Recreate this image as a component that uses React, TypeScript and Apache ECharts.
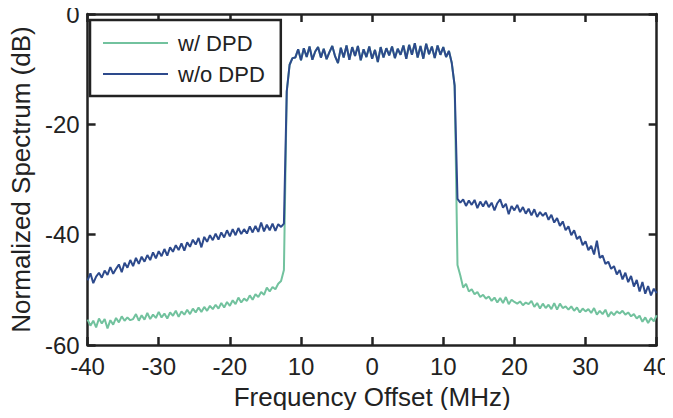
import React, { useEffect, useRef } from "react";
import * as echarts from "echarts";

// Frequency grid: -40 MHz to 40 MHz, step 0.4 MHz (201 samples)
const X_START = -40;
const X_STEP = 0.4;

const xTickLabels = ["-40", "-30", "-20", "10", "0", "10", "20", "30", "40"];
const yTickLabels = ["-60", "-40", "-20", "0"];

// w/o DPD, left adjacent band (x = -40 ... -12.4)
const woLeft = [
  -48.3, -47.0, -48.8, -47.6, -46.9, -47.8, -46.5, -47.3, -45.9, -47.1,
  -46.2, -45.4, -46.8, -45.1, -46.0, -44.6, -45.7, -44.2, -45.3, -44.0,
  -44.9, -43.7, -44.6, -43.2, -44.3, -43.0, -43.9, -42.6, -43.8, -42.3,
  -43.1, -41.9, -42.8, -41.6, -42.9, -41.4, -42.2, -40.9, -41.8, -40.6,
  -42.3, -40.4, -41.3, -40.1, -41.0, -39.8, -40.9, -39.6, -40.5, -39.2,
  -40.3, -39.0, -40.1, -38.8, -39.9, -39.0, -39.8, -38.5, -39.6, -38.4,
  -39.5, -37.8, -39.4, -38.2, -39.2, -38.0, -39.3, -38.1, -38.6, -38.0,
];

// Shared in-band part (x = -12.0 ... 11.6)
const passband = [
  -14.0, -9.2, -8.0,
  -7.9, -6.4, -8.4, -6.2, -7.8, -5.9, -8.3, -6.8, -6.0, -7.9,
  -6.3, -8.2, -6.9, -5.8, -7.7, -8.9, -6.1, -7.9, -5.7, -8.3,
  -6.0, -7.6, -5.8, -8.4, -6.4, -7.8, -5.9, -8.1, -6.5, -8.7,
  -6.0, -7.9, -6.2, -7.5, -5.9, -8.0, -6.3, -7.4, -5.7, -8.1,
  -5.6, -7.4, -5.3, -7.9, -5.8, -8.1, -5.4, -7.3, -5.9, -8.0,
  -5.7, -7.4, -6.0, -7.8, -6.7,
  -8.9, -13.0,
];

// Right band edge at x = 12.0
const woEdge = [-33.5];
const wEdge = [-45.5];

// w/o DPD, right adjacent band (x = 12.4 ... 40)
const woRight = [
  -34.2, -33.6, -34.8, -33.8, -34.6, -33.7, -35.2, -34.0, -34.9, -33.9,
  -35.0, -34.2, -35.6, -34.3, -33.6, -35.1, -34.4, -36.3, -34.8, -35.6,
  -34.6, -35.9, -35.0, -36.2, -35.3, -36.5, -35.4, -36.8, -35.9, -36.6,
  -36.0, -37.3, -36.4, -37.8, -37.0, -38.4, -37.6, -39.2, -38.5, -40.1,
  -39.2, -40.8, -40.3, -41.9, -41.2, -42.8, -42.0, -43.6, -41.1, -44.2,
  -43.8, -45.3, -44.9, -46.2, -45.7, -47.2, -46.4, -48.1, -46.9, -48.6,
  -47.5, -49.4, -48.2, -50.3, -48.6, -50.7, -49.3, -51.0, -49.8, -50.6,
];

// w/ DPD, left adjacent band (x = -40 ... -12.4)
const wLeft = [
  -55.4, -56.5, -55.6, -56.8, -55.2, -56.1, -55.3, -57.0, -55.5, -56.3,
  -55.1, -55.9, -54.8, -55.6, -55.0, -55.5, -55.3, -54.4, -55.6, -54.6,
  -55.4, -54.2, -55.3, -54.5, -55.1, -54.0, -55.0, -54.3, -55.2, -54.1,
  -54.7, -53.8, -54.9, -53.9, -54.5, -53.6, -54.4, -53.4, -54.1, -53.2,
  -54.0, -53.1, -53.8, -52.9, -53.5, -52.7, -53.4, -52.4, -53.2, -52.2,
  -52.9, -51.9, -52.6, -51.4, -52.3, -51.6, -52.0, -51.0, -51.8, -50.8,
  -51.3, -50.4, -50.9, -49.6, -50.3, -49.5, -49.9, -48.9, -48.4, -46.4,
];

// w/ DPD, right adjacent band (x = 12.4 ... 40)
const wRight = [
  -47.4, -49.6, -48.9, -50.3, -49.9, -50.8, -50.4, -51.3, -50.9, -51.6,
  -51.2, -52.0, -51.4, -52.3, -51.5, -52.4, -51.3, -52.6, -51.8, -52.2,
  -52.5, -52.1, -52.8, -52.3, -52.6, -52.0, -53.1, -52.4, -53.4, -52.5,
  -53.3, -52.7, -53.5, -52.4, -53.6, -52.5, -53.3, -53.0, -53.6, -53.0,
  -53.8, -53.2, -54.1, -53.4, -53.9, -53.5, -54.2, -53.3, -54.5, -53.8,
  -54.4, -53.6, -54.9, -54.0, -54.6, -53.9, -54.3, -53.8, -54.5, -54.1,
  -54.8, -54.4, -55.2, -54.7, -55.8, -55.0, -56.0, -55.1, -55.7, -54.6,
];

const withoutDPD = [...woLeft, ...passband, ...woEdge, ...woRight];
const withDPD = [...wLeft, ...passband, ...wEdge, ...wRight];

const toPairs = (vals: number[]) =>
  vals.map((v, i) => [+(X_START + i * X_STEP).toFixed(2), v]);

const FONT = "'Liberation Sans', Arial, Helvetica, sans-serif";
const INK = "#222222";
const GREEN = "#72c29e";
const BLUE = "#2d4a8c";

export default function App() {
  const ref = useRef<HTMLDivElement>(null);

  useEffect(() => {
    if (!ref.current) return;
    const chart = echarts.init(ref.current, undefined, { renderer: "svg" });

    const axisLine = { show: true, onZero: false, lineStyle: { color: INK, width: 2.5 } };
    const axisTick = { show: true, inside: true, length: 8, lineStyle: { color: INK, width: 2.5 } };

    chart.setOption({
      animation: false,
      backgroundColor: "#ffffff",
      grid: { left: 84, right: 16, top: 14, bottom: 73, containLabel: false },
      legend: {
        show: true,
        orient: "vertical",
        left: 90,
        top: 20,
        data: [
          { name: "w/ DPD", icon: "rect" },
          { name: "w/o DPD", icon: "rect" },
        ],
        itemWidth: 65,
        itemHeight: 2,
        itemGap: 9,
        padding: [12, 16, 11, 13],
        borderColor: INK,
        borderWidth: 2.5,
        borderRadius: 0,
        backgroundColor: "#ffffff",
        textStyle: { fontFamily: FONT, fontSize: 22, lineHeight: 22, color: INK, padding: [0, 0, 0, 5] },
      },
      xAxis: [
        {
          type: "value",
          min: -40,
          max: 40,
          interval: 10,
          position: "bottom",
          name: "Frequency Offset (MHz)",
          nameLocation: "middle",
          nameGap: 39,
          nameTextStyle: { fontFamily: FONT, fontSize: 26, color: INK },
          axisLine,
          axisTick,
          splitLine: { show: false },
          axisLabel: {
            fontFamily: FONT,
            fontSize: 24,
            color: INK,
            margin: 9,
            formatter: (v: number) => xTickLabels[Math.round((v + 40) / 10)] ?? "",
          },
        },
        {
          type: "value",
          min: -40,
          max: 40,
          interval: 10,
          position: "top",
          axisLine,
          axisTick,
          axisLabel: { show: false },
          splitLine: { show: false },
        },
      ],
      yAxis: [
        {
          type: "value",
          min: -60,
          max: 0,
          interval: 20,
          position: "left",
          name: "Normalized Spectrum (dB)",
          nameLocation: "middle",
          nameRotate: 90,
          nameGap: 51,
          nameTextStyle: { fontFamily: FONT, fontSize: 26, color: INK },
          axisLine,
          axisTick,
          splitLine: { show: false },
          axisLabel: {
            fontFamily: FONT,
            fontSize: 24,
            color: INK,
            margin: 8,
            formatter: (v: number) => yTickLabels[Math.round((v + 60) / 20)] ?? "",
          },
        },
        {
          type: "value",
          min: -60,
          max: 0,
          interval: 20,
          position: "right",
          axisLine,
          axisTick,
          axisLabel: { show: false },
          splitLine: { show: false },
        },
      ],
      series: [
        {
          name: "w/ DPD",
          type: "line",
          data: toPairs(withDPD),
          showSymbol: false,
          symbol: "none",
          lineStyle: { color: GREEN, width: 2 },
          itemStyle: { color: GREEN },
          z: 2,
        },
        {
          name: "w/o DPD",
          type: "line",
          data: toPairs(withoutDPD),
          showSymbol: false,
          symbol: "none",
          lineStyle: { color: BLUE, width: 2 },
          itemStyle: { color: BLUE },
          z: 3,
        },
      ],
    });

    return () => chart.dispose();
  }, []);

  return <div ref={ref} style={{ width: 673, height: 418, margin: -8 }} />;
}
